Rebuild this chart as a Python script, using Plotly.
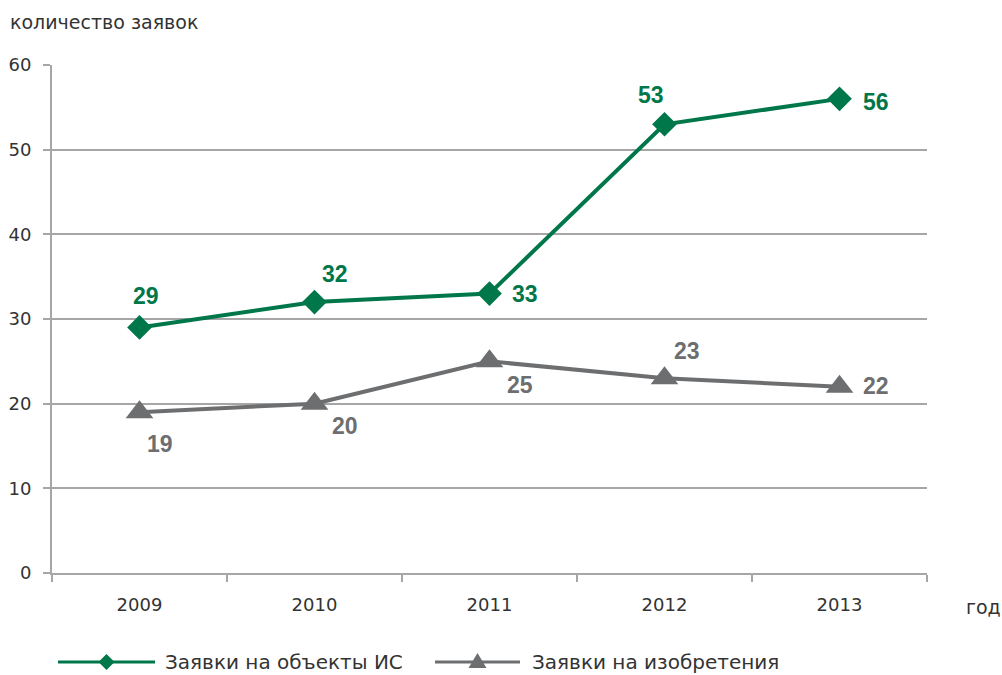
import plotly.graph_objects as go

years = ["2009", "2010", "2011", "2012", "2013"]
ip_objects = [29, 32, 33, 53, 56]
inventions = [19, 20, 25, 23, 22]
y_ticks = [0, 10, 20, 30, 40, 50, 60]

series_names = ["Заявки на объекты ИС", "Заявки на изобретения"]
y_title = "количество заявок"
x_title = "год"

GREEN = "#00774A"
GRAY = "#6D6E70"
AXIS = "#A6A6A6"
TXT = "#333333"
FONT = "DejaVu Sans"

W, H = 1002, 675
# plot area in page pixels
PX0, PX1, PY0, PY1 = 52, 927, 65, 573


def px(x):
    return (x - PX0) / (PX1 - PX0)


def py(y):
    return (PY1 - y) / (PY1 - PY0)


fig = go.Figure()
fig.add_trace(go.Scatter(
    x=years, y=ip_objects, mode="lines+markers", name=series_names[0],
    line=dict(color=GREEN, width=4),
    marker=dict(symbol="diamond", size=19, color=GREEN),
    showlegend=False, cliponaxis=False))
fig.add_trace(go.Scatter(
    x=years, y=inventions, mode="lines+markers", name=series_names[1],
    line=dict(color=GRAY, width=4),
    marker=dict(symbol="triangle-up", size=24, color=GRAY),
    showlegend=False, cliponaxis=False))

# data labels (offsets in px)
green_off = [(6, 31), (20, 28), (35, 0), (-14, 29), (36, -3)]
gray_off = [(20, -32), (30, -22), (30, -24), (22, 27), (36, 1)]
annotations = []
for i, yr in enumerate(years):
    dx, dy = green_off[i]
    annotations.append(dict(x=i, y=ip_objects[i], xref="x", yref="y", text=str(ip_objects[i]),
                            showarrow=False, xshift=dx, yshift=dy,
                            font=dict(family="Liberation Sans", size=23, color=GREEN, weight="bold")))
    dx, dy = gray_off[i]
    annotations.append(dict(x=i, y=inventions[i], xref="x", yref="y", text=str(inventions[i]),
                            showarrow=False, xshift=dx, yshift=dy,
                            font=dict(family="Liberation Sans", size=23, color=GRAY, weight="bold")))

annotations.append(dict(xref="paper", yref="paper", x=px(8), y=py(22), xanchor="left", yanchor="middle",
                        text=y_title, showarrow=False, font=dict(family=FONT, size=19, color=TXT)))
annotations.append(dict(xref="paper", yref="paper", x=px(983), y=py(607), xanchor="center", yanchor="middle",
                        text=x_title, showarrow=False, font=dict(family=FONT, size=19, color=TXT)))

# manual legend
shapes = []
leg_y = 662
items = [(58, 155, GREEN, "diamond", series_names[0], 163),
         (435, 520, GRAY, "triangle", series_names[1], 530)]
for x0, x1, col, sym, name, tx in items:
    shapes.append(dict(type="line", xref="paper", yref="paper", x0=px(x0), x1=px(x1),
                       y0=py(leg_y), y1=py(leg_y), line=dict(color=col, width=3)))
    cx = (x0 + x1) / 2
    if sym == "diamond":
        pts = [(cx, leg_y - 8), (cx + 8, leg_y), (cx, leg_y + 8), (cx - 8, leg_y)]
    else:
        pts = [(cx, leg_y - 9), (cx + 9, leg_y + 6), (cx - 9, leg_y + 6)]
    path = "M " + " L ".join(f"{px(a):.5f},{py(b):.5f}" for a, b in pts) + " Z"
    shapes.append(dict(type="path", xref="paper", yref="paper", path=path,
                       fillcolor=col, line=dict(color=col, width=0)))
    annotations.append(dict(xref="paper", yref="paper", x=px(tx), y=py(leg_y), xanchor="left",
                            yanchor="middle", text=name, showarrow=False,
                            font=dict(family=FONT, size=20, color=TXT)))

fig.update_layout(
    width=W, height=H,
    margin=dict(l=PX0, r=W - PX1, t=PY0, b=H - PY1, pad=0, autoexpand=False),
    paper_bgcolor="white", plot_bgcolor="white",
    annotations=annotations, shapes=shapes,
    xaxis=dict(type="category", range=[-0.5, 4.5], tickson="boundaries", automargin=False,
               showgrid=False, showline=True, linecolor=AXIS, linewidth=2,
               ticks="outside", ticklen=7, tickcolor=AXIS, tickwidth=1.5,
               tickfont=dict(family=FONT, size=18, color=TXT), ticklabelstandoff=14),
    yaxis=dict(range=[0, 60], tickvals=y_ticks, showgrid=True, gridcolor=AXIS, gridwidth=1.5,
               showline=True, linecolor=AXIS, linewidth=2, zeroline=False, automargin=False,
               ticks="outside", ticklen=7, tickcolor=AXIS, tickwidth=1.5,
               tickfont=dict(family=FONT, size=18, color=TXT), ticklabelstandoff=8),
)

fig.write_html(
    "out.html",
    config={"displayModeBar": False},
    post_script="document.body.style.margin='0';document.body.style.overflow='hidden';",
)
